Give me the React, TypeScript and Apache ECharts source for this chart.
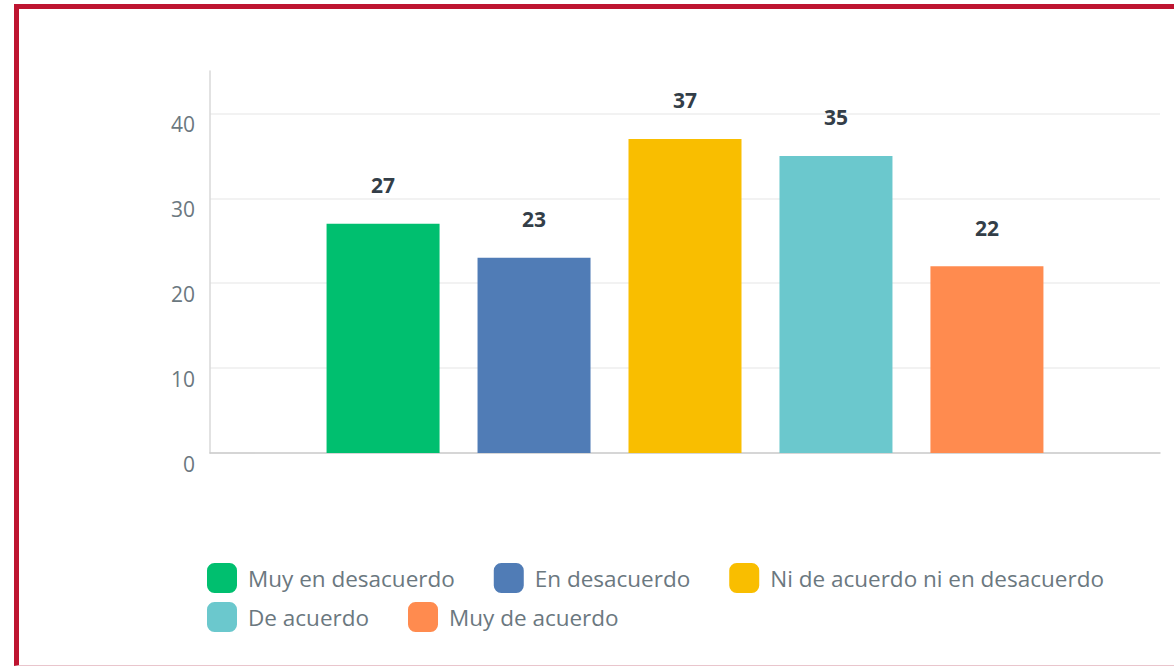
import React, { useEffect, useRef } from "react";
import * as echarts from "echarts";

const seriesNames = [
  "Muy en desacuerdo",
  "En desacuerdo",
  "Ni de acuerdo ni en desacuerdo",
  "De acuerdo",
  "Muy de acuerdo",
];
const seriesValues = [27, 23, 37, 35, 22];
const seriesColors = ["#00BF6F", "#507CB6", "#F9BE00", "#6BC8CD", "#FF8B4F"];
const categories = [""];
const legendRow1 = seriesNames.slice(0, 3);
const legendRow2 = seriesNames.slice(3);

const FONT = "'Open Sans', Roboto, sans-serif";
const GRAY = "#6B787F";
const DARK = "#333E48";

export default function App() {
  const ref = useRef<HTMLDivElement>(null);
  useEffect(() => {
    if (!ref.current) return;
    const chart = echarts.init(ref.current, null, { renderer: "svg" });
    const legendCommon = {
      orient: "horizontal",
      left: 207,
      padding: 0,
      itemWidth: 30,
      itemHeight: 30,
      itemGap: 39,
      icon: "roundRect",
      selectedMode: false,
      textStyle: {
        color: GRAY,
        fontSize: 22.5,
        fontFamily: FONT,
        padding: [0, 0, 0, 6],
      },
    };
    chart.setOption({
      animation: false,
      backgroundColor: "transparent",
      grid: { left: 210, right: 14, top: 71, bottom: 213 },
      legend: [
        { ...legendCommon, top: 563, data: legendRow1 },
        { ...legendCommon, top: 602, data: legendRow2 },
      ],
      xAxis: {
        type: "category",
        data: categories,
        axisLine: { show: true, lineStyle: { color: "#CCCCCC", width: 1.5 } },
        axisTick: { show: false },
        axisLabel: { show: false },
      },
      yAxis: {
        type: "value",
        min: 0,
        max: 45,
        interval: 10,
        axisLine: { show: true, lineStyle: { color: "#D8D8D8", width: 1.5 } },
        axisTick: { show: false },
        axisLabel: {
          color: GRAY,
          fontSize: 21,
          fontFamily: FONT,
          margin: 15,
          verticalAlign: "top",
          showMaxLabel: false,
          formatter: (v: number) => (v % 10 === 0 ? String(v) : ""),
        },
        splitLine: {
          show: true,
          lineStyle: {
            color: ["#EEEEEE", "#EEEEEE", "#EEEEEE", "#EEEEEE", "#EEEEEE", "rgba(0,0,0,0)"],
            width: 1.5,
          },
        },
      },
      series: seriesNames.map((name, i) => ({
        name,
        type: "bar",
        data: [seriesValues[i]],
        barWidth: 113,
        barGap: "33.6%",
        itemStyle: { color: seriesColors[i] },
        label: {
          show: true,
          position: "top",
          distance: 28,
          color: DARK,
          fontSize: 21,
          fontWeight: "bold",
          fontFamily: FONT,
        },
      })),
    });
    return () => chart.dispose();
  }, []);
  return (
    <div style={{ position: "fixed", left: 0, top: 0, width: 1174, height: 666, background: "#fff", overflow: "hidden" }}>
      <div
        style={{
          position: "absolute",
          left: 14,
          top: 4,
          width: 1300,
          height: 656,
          borderLeft: "5px solid #BE1430",
          borderTop: "5px solid #BE1430",
          borderBottom: "1px solid #E9C5CC",
        }}
      />
      <div ref={ref} style={{ position: "absolute", left: 0, top: 0, width: 1174, height: 666 }} />
    </div>
  );
}
